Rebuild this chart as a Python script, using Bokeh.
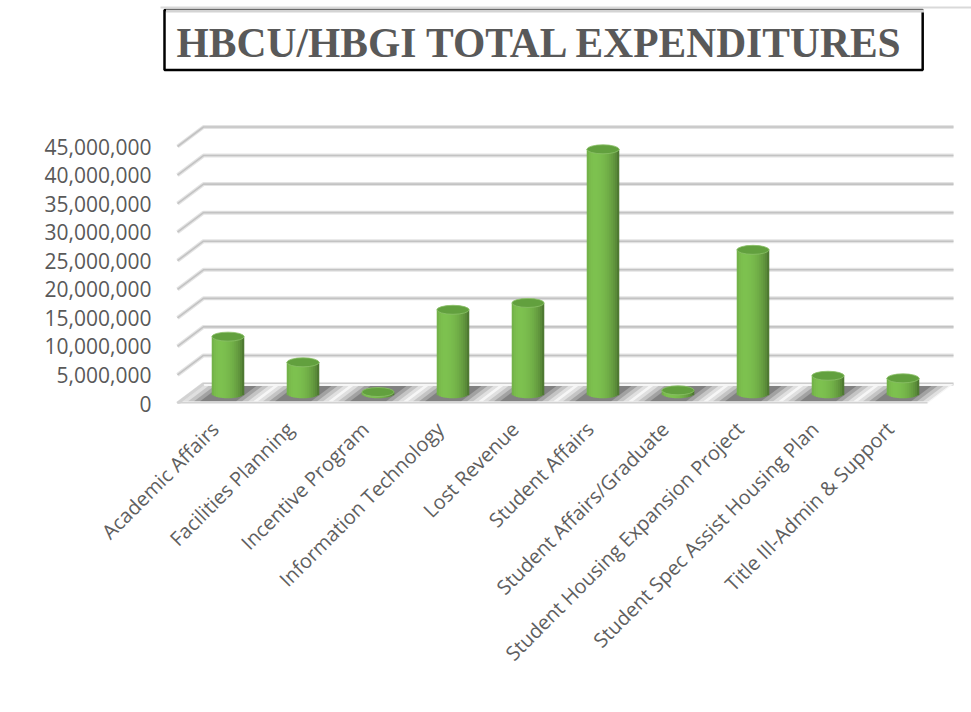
import math
import numpy as np
from bokeh.plotting import figure
from bokeh.models import FixedTicker, NumeralTickFormatter, Label
from bokeh.embed import file_html
from bokeh.resources import INLINE

# ---------------- data ----------------
categories = [
    "Academic Affairs",
    "Facilities Planning",
    "Incentive Program",
    "Information Technology",
    "Lost Revenue",
    "Student Affairs",
    "Student Affairs/Graduate",
    "Student Housing Expansion Project",
    "Student Spec Assist Housing Plan",
    "Title III-Admin & Support",
]
expenditures = [10_000_000, 5_500_000, 300_000, 14_700_000, 15_900_000,
                42_800_000, 600_000, 25_200_000, 3_150_000, 2_700_000]
y_ticks = [0, 5_000_000, 10_000_000, 15_000_000, 20_000_000, 25_000_000,
           30_000_000, 35_000_000, 40_000_000, 45_000_000]
title_text = "HBCU/HBGI TOTAL EXPENDITURES"

# ---------------- layout (pixels) ----------------
W, H = 971, 712
FL, FR, FT, FB = 160, 971, 0, 403     # frame edges (px)
PLANE_L = 177                         # left edge of the front plane (px)
YLAB_R = 151                          # right edge of y tick labels (px)
PX_PER_CAT = 75.0
PX_PER_VAL = 257.0 / 45_000_000

n = len(categories)
idx = np.arange(n, dtype=float)
vals = np.array(expenditures, dtype=float)

x_front0 = -0.5
x_front1 = n - 0.5
x_start = x_front0 - (PLANE_L - FL) / PX_PER_CAT
x_stop = x_start + (FR - FL) / PX_PER_CAT
y_stop = (FB - FT) / PX_PER_VAL


def xd(px):
    return x_start + (px - FL) / PX_PER_CAT


def yd(py):
    return (FB - py) / PX_PER_VAL


# oblique depth offsets (back wall) in data units
DXB = 26 / PX_PER_CAT
DYB = 19.5 / PX_PER_VAL
DXM, DYM = DXB / 2, DYB / 2

p = figure(width=W, height=H, x_range=(x_start, x_stop), y_range=(0, y_stop),
           output_backend="svg", toolbar_location=None,
           min_border_left=FL, min_border_right=W - FR,
           min_border_top=FT, min_border_bottom=H - FB)
p.xgrid.visible = False
p.ygrid.visible = False
p.outline_line_color = None
p.background_fill_color = "white"
p.border_fill_color = "white"

# ---------------- back wall gridlines ----------------
gx = [[x_front0, x_front0 + DXB, x_front1 + DXB] for _ in y_ticks]
gy = [[t, t + DYB, t + DYB] for t in y_ticks]
p.multi_line(gx, gy, line_color="#e3e3e3", line_width=4)
p.multi_line(gx, gy, line_color="#c3c3c3", line_width=1.6)

# ---------------- floor ----------------
p.patch([x_front0, x_front1, x_front1 + DXB, x_front0 + DXB], [0, 0, DYB, DYB],
        fill_color="#f6f6f6", line_color=None)

# shadows on the floor
f0, f1 = 0.12, 0.9
for hw, a in [(0.47, 0.10), (0.40, 0.14), (0.32, 0.2), (0.24, 0.25)]:
    sx = [[i - hw + f0 * DXB, i + hw + f0 * DXB, i + hw + f1 * DXB, i - hw + f1 * DXB] for i in idx]
    sy = [[f0 * DYB, f0 * DYB, f1 * DYB, f1 * DYB] for _ in idx]
    p.patches(sx, sy, fill_color="#1e1e1e", fill_alpha=a, line_color=None)

# front edge and left edge of the floor
p.line([x_front0, x_front1], [0, 0], line_color="#d2d2d2", line_width=3.5)
p.line([x_front0, x_front0 + DXB], [0, DYB], line_color="#d2d2d2", line_width=3)

# ---------------- cylinders ----------------
BW = 0.43              # cylinder width (category units)
ELL_PX = 9             # ellipse height in px
NS = 16
base = np.array([112, 173, 71], dtype=float)   # #70AD47
xc = idx + DXM
for k in range(NS):
    u = -1 + (2 * k + 1) / NS
    theta = math.asin(u)
    shade = 0.76 + 0.36 * math.cos(theta + 0.5)
    rgb = np.clip(base * shade, 0, 255).astype(int)
    col = "#%02x%02x%02x" % tuple(rgb)
    drop = (ELL_PX / 2) * math.sqrt(max(0.0, 1 - u * u)) / PX_PER_VAL
    p.vbar(x=xc + u * BW / 2, width=BW / NS * 1.15,
           bottom=np.full(n, DYM - drop), top=vals + DYM,
           fill_color=col, line_color=None)

p.ellipse(x=xc, y=vals + DYM, width=BW, height=ELL_PX, height_units="screen",
          fill_color="#62a03e", line_color="#8cc068", line_width=0.8)

# ---------------- axes ----------------
p.yaxis.ticker = FixedTicker(ticks=y_ticks)
p.yaxis.formatter = NumeralTickFormatter(format="0,0")
p.yaxis.axis_line_color = None
p.yaxis.major_tick_line_color = None
p.yaxis.minor_tick_line_color = None
p.yaxis.major_tick_out = 0
p.yaxis.major_tick_in = 0
p.yaxis.major_label_standoff = FL - YLAB_R
p.yaxis.major_label_text_font = "Open Sans"
p.yaxis.major_label_text_font_size = "21px"
p.yaxis.major_label_text_color = "#595959"

p.xaxis.ticker = FixedTicker(ticks=list(range(n)))
p.xaxis.major_label_overrides = {i: c for i, c in enumerate(categories)}
p.xaxis.major_label_orientation = math.pi / 4
p.xaxis.axis_line_color = None
p.xaxis.major_tick_line_color = None
p.xaxis.minor_tick_line_color = None
p.xaxis.major_tick_out = 0
p.xaxis.major_tick_in = 0
p.xaxis.major_label_standoff = 22
p.xaxis.major_label_text_font = "Open Sans"
p.xaxis.major_label_text_font_size = "20px"
p.xaxis.major_label_text_color = "#5f5f5f"

# ---------------- title box ----------------
title = Label(x=164 - FL, y=FB - 9.5, x_units="screen", y_units="screen",
              text=title_text, text_font="Liberation Serif", text_font_style="bold",
              text_font_size="41.5px", text_color="#595959", text_baseline="top",
              text_align="left",
              border_line_color="black", border_line_width=2.5,
              background_fill_color="white", padding=(12, 19, 10, 4))
p.add_layout(title)

# light chart-area top border and light top edge of the title box
p.line([xd(FL), xd(FR)], [yd(7), yd(7)], line_color="#d9d9d9", line_width=2,
       level="overlay")
p.line([xd(165.5), xd(923.5)], [yd(10.5), yd(10.5)], line_color="#d4d4d4",
       line_width=3, level="overlay")

open("out.html", "w").write(file_html(p, INLINE))
